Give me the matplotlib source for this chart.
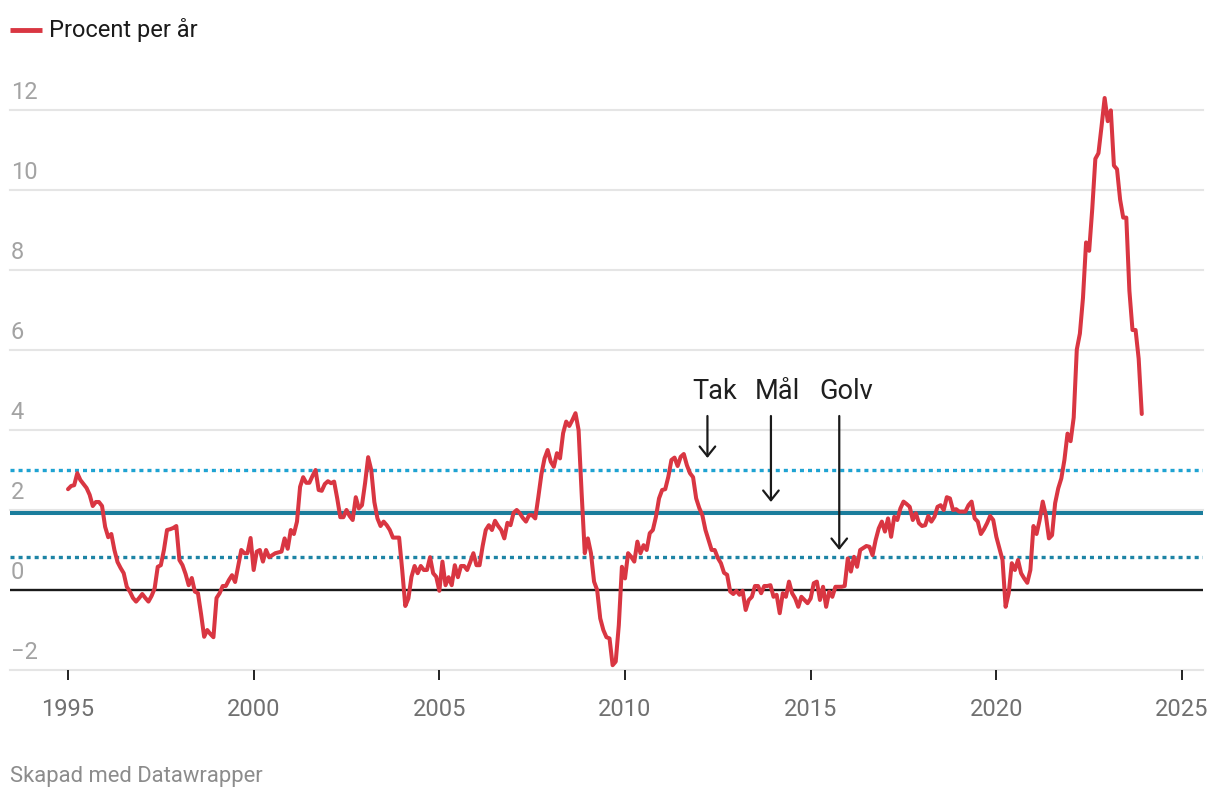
import numpy as np
import matplotlib
matplotlib.use("Agg")
import matplotlib.pyplot as plt
from matplotlib.lines import Line2D

plt.rcParams['font.family'] = ['Roboto', 'DejaVu Sans']
plt.rcParams['lines.scale_dashes'] = False

# ---------------- data (KPI, procent per år, monthly) ----------------
start_year = 1995
cpi_1995 = [2.52, 2.60, 2.62, 2.92, 2.75, 2.65, 2.55, 2.38, 2.10, 2.20, 2.20, 2.10]
cpi_1996 = [1.58, 1.32, 1.40, 1.00, 0.70, 0.55, 0.42, 0.08, -0.04, -0.20, -0.29, -0.20]
cpi_1997 = [-0.10, -0.20, -0.29, -0.15, 0.04, 0.58, 0.62, 1.00, 1.50, 1.52, 1.55, 1.60]
cpi_1998 = [0.75, 0.62, 0.40, 0.12, 0.30, -0.04, -0.08, -0.60, -1.17, -1.00, -1.10, -1.18]
cpi_1999 = [-0.20, -0.08, 0.10, 0.10, 0.25, 0.37, 0.20, 0.60, 1.00, 0.92, 0.92, 1.30]
cpi_2000 = [0.50, 0.96, 1.00, 0.71, 1.00, 0.82, 0.87, 0.92, 0.94, 0.96, 1.29, 1.03]
cpi_2001 = [1.50, 1.40, 1.71, 2.58, 2.82, 2.68, 2.68, 2.85, 3.00, 2.50, 2.48, 2.65]
cpi_2002 = [2.72, 2.67, 2.71, 2.29, 1.82, 1.82, 2.00, 1.85, 1.75, 2.32, 2.04, 2.12]
cpi_2003 = [2.67, 3.32, 3.00, 2.20, 1.79, 1.60, 1.71, 1.62, 1.50, 1.31, 1.31, 1.31]
cpi_2004 = [0.50, -0.40, -0.21, 0.33, 0.60, 0.42, 0.60, 0.50, 0.50, 0.82, 0.42, 0.33]
cpi_2005 = [-0.02, 0.71, 0.12, 0.32, 0.12, 0.62, 0.32, 0.60, 0.60, 0.50, 0.70, 0.92]
cpi_2006 = [0.62, 0.62, 1.10, 1.50, 1.62, 1.50, 1.73, 1.60, 1.50, 1.29, 1.68, 1.62]
cpi_2007 = [1.93, 2.00, 1.92, 1.80, 1.71, 1.87, 1.87, 1.79, 2.33, 2.90, 3.29, 3.50]
cpi_2008 = [3.21, 3.08, 3.42, 3.29, 3.92, 4.21, 4.10, 4.25, 4.42, 4.00, 2.40, 0.92]
cpi_2009 = [1.29, 0.92, 0.21, 0.00, -0.71, -1.00, -1.18, -1.21, -1.88, -1.79, -0.88, 0.58]
cpi_2010 = [0.29, 0.92, 0.83, 0.71, 1.21, 0.92, 1.12, 1.00, 1.42, 1.50, 1.83, 2.29]
cpi_2011 = [2.50, 2.52, 2.83, 3.25, 3.31, 3.10, 3.33, 3.40, 3.12, 2.92, 2.82, 2.29]
cpi_2012 = [2.05, 1.87, 1.50, 1.25, 1.00, 1.00, 0.80, 0.67, 0.43, 0.38, -0.04, -0.10]
cpi_2013 = [-0.02, -0.12, -0.02, -0.50, -0.25, -0.17, 0.10, 0.10, -0.08, 0.10, 0.10, 0.12]
cpi_2014 = [-0.17, -0.12, -0.58, -0.08, -0.17, 0.21, -0.08, -0.21, -0.42, -0.17, -0.25, -0.33]
cpi_2015 = [-0.21, 0.17, 0.21, -0.25, 0.08, -0.42, -0.04, -0.17, 0.08, 0.08, 0.08, 0.10]
cpi_2016 = [0.79, 0.46, 0.83, 0.58, 1.00, 1.05, 1.10, 1.08, 0.87, 1.25, 1.54, 1.71]
cpi_2017 = [1.46, 1.79, 1.33, 1.83, 1.75, 2.04, 2.21, 2.15, 2.08, 1.75, 1.92, 1.67]
cpi_2018 = [1.60, 1.62, 1.85, 1.71, 1.83, 2.08, 2.12, 2.00, 2.32, 2.29, 2.00, 2.02]
cpi_2019 = [1.96, 1.96, 1.96, 2.12, 2.21, 1.79, 1.71, 1.40, 1.52, 1.67, 1.85, 1.75]
cpi_2020 = [1.33, 1.04, 0.75, -0.42, -0.08, 0.67, 0.50, 0.75, 0.42, 0.29, 0.18, 0.50]
cpi_2021 = [1.60, 1.40, 1.75, 2.21, 1.87, 1.29, 1.37, 2.17, 2.54, 2.79, 3.25, 3.91]
cpi_2022 = [3.72, 4.31, 6.01, 6.41, 7.30, 8.69, 8.48, 9.53, 10.78, 10.92, 11.59, 12.30]
cpi_2023 = [11.72, 11.99, 10.61, 10.52, 9.76, 9.31, 9.31, 7.48, 6.50, 6.50, 5.78, 4.40]

years_data = [cpi_1995, cpi_1996, cpi_1997, cpi_1998, cpi_1999, cpi_2000, cpi_2001,
              cpi_2002, cpi_2003, cpi_2004, cpi_2005, cpi_2006, cpi_2007, cpi_2008,
              cpi_2009, cpi_2010, cpi_2011, cpi_2012, cpi_2013, cpi_2014, cpi_2015,
              cpi_2016, cpi_2017, cpi_2018, cpi_2019, cpi_2020, cpi_2021, cpi_2022,
              cpi_2023]

# reference levels
tak_level = 3.0
mal_level = 1.92
golv_level = 0.82

series_label = "Procent per år"
annot_labels = ["Tak", "Mål", "Golv"]
y_ticks = [-2, 0, 2, 4, 6, 8, 10, 12]
x_ticks = [1995, 2000, 2005, 2010, 2015, 2020, 2025]
footer = "Skapad med Datawrapper"

values = np.concatenate([np.array(v, dtype=float) for v in years_data])
dates = start_year + np.arange(len(values)) / 12.0

# ---------------- figure ----------------
W, H = 1220, 796
fig = plt.figure(figsize=(W / 100, H / 100), dpi=100)
ax_left_px, ax_right_px, ax_top_px, ax_bot_px = 10, 1203, 78, 670
ax = fig.add_axes([ax_left_px / W, 1 - ax_bot_px / H,
                   (ax_right_px - ax_left_px) / W, (ax_bot_px - ax_top_px) / H])

px_per_year = (625 - 68) / 15.0
ax.set_xlim(1995 - (68 - ax_left_px) / px_per_year, 1995 + (ax_right_px - 68) / px_per_year)
ax.set_ylim(-2, -2 + (ax_bot_px - ax_top_px) / 40.0)

for s in ax.spines.values():
    s.set_visible(False)

# gridlines
for v in y_ticks:
    if v == 0:
        continue
    ax.axhline(v, color='#e5e5e5', lw=1.5, zorder=1, clip_on=False)

# reference lines
ax.axhline(tak_level, color='#1fa3d2', lw=2.4, ls=(0, (2.9, 2.9)),
           dash_capstyle='butt', zorder=2)
ax.axhline(golv_level, color='#1d84a5', lw=2.4, ls=(0, (2.9, 2.9)),
           dash_capstyle='butt', zorder=2)
ax.axhline(mal_level, color='#1b7d9c', lw=2.9, zorder=2)
ax.axhline(0, color='#1a1a1a', lw=1.7, zorder=3)

# data line
red = '#d93642'
ax.plot(dates, values, color=red, lw=2.9, solid_joinstyle='round',
        solid_capstyle='round', zorder=5, clip_on=False)

# y labels above gridlines
def fmt(v):
    return ("\u2212" + str(abs(v))) if v < 0 else str(v)

ax.set_yticks([])
for v in y_ticks:
    ax.annotate(fmt(v), xy=(0, v), xycoords=('axes fraction', 'data'),
                xytext=(0.5, 8.2), textcoords='offset points', ha='left',
                va='baseline', fontsize=17, color='#a3a3a3')

# x ticks
ax.set_xticks(x_ticks)
ax.set_xticklabels([str(t) for t in x_ticks])
ax.tick_params(axis='x', length=7.5, width=1.4, color='#222222', pad=12.5,
               labelsize=17, labelcolor='#707070')

# annotations with arrows
arrow_x = [2012.22, 2013.93, 2015.77]
arrow_tip = [3.3, 2.2, 1.0]
arrow_start = 4.35
label_dx = [0.19, 0.16, 0.19]
label_y = 4.77
for lab, xa, yt, dx in zip(annot_labels, arrow_x, arrow_tip, label_dx):
    ax.annotate('', xy=(xa, yt), xytext=(xa, arrow_start),
                arrowprops=dict(arrowstyle='->,head_length=0.5,head_width=0.4',
                                lw=1.6, color='#1a1a1a', shrinkA=0, shrinkB=0,
                                mutation_scale=14), zorder=6)
    ax.text(xa + dx, label_y, lab, ha='center', va='baseline', fontsize=19.5,
            color='#1f1f1f', zorder=6)

# legend
fig.add_artist(Line2D([10 / W, 42 / W], [1 - 30 / H, 1 - 30 / H], color=red,
                      lw=3.5, solid_capstyle='butt', transform=fig.transFigure))
fig.text(49 / W, 1 - 37.5 / H, series_label, fontsize=17, color='#1a1a1a',
         ha='left', va='baseline')

# footer
fig.text(10 / W, 1 - 782 / H, footer, fontsize=15.8, color='#8c8c8c',
         ha='left', va='baseline')

fig.savefig('out.png', dpi=100, facecolor='white')
